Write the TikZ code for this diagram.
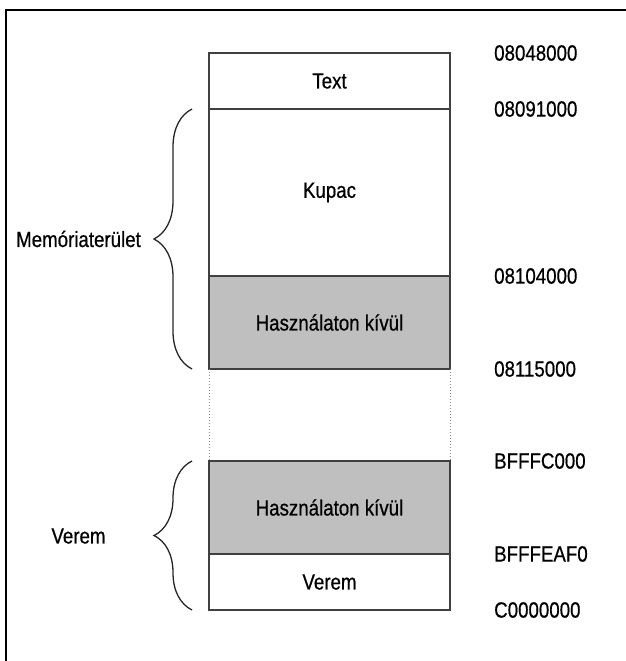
\documentclass[tikz,border=0pt]{standalone}
\usepackage{fontspec}
\setmainfont{Liberation Sans}[FakeStretch=0.85,FakeBold=0.6]
\usetikzlibrary{positioning,decorations.pathreplacing}
\tikzset{
    %Define style for memory segments
    seg/.style={
           rectangle,
           draw=black!75, line width=1.8pt,
           minimum width=241pt,
           inner sep=0pt, outer sep=0pt,
           font=\fontsize{22}{26}\selectfont,
           text centered},
    unused/.style={
           seg,
           fill=black!25},
    gap/.style={
           seg,
           draw=none},
    addr/.style={
           anchor=west,
           inner sep=0pt,
           font=\fontsize{22}{26}\selectfont},
    lbl/.style={
           inner sep=0pt,
           font=\fontsize{22}{26}\selectfont},
    % Define brace style
    brc/.style={
           decorate,
           decoration={brace, amplitude=38pt},
           line width=1.3pt, black!85}
}
\begin{document}
\begin{tikzpicture}[x=1pt,y=1pt]
\useasboundingbox (0,0) rectangle (626,-661);
\draw[line width=1.5pt] (6,-661) -- (6,-10) -- (626,-10);
 %segments
\node[seg, minimum height=56pt](text) at (329.5,-81){Text};
\node[seg, minimum height=167pt, below=0pt of text](kupac){Kupac};
\node[unused, minimum height=93pt, below=0pt of kupac](free1){Használaton kívül};
\node[gap, minimum height=92pt, below=0pt of free1](hole){};
\node[unused, minimum height=93pt, below=0pt of hole](free2){Használaton kívül};
\node[seg, minimum height=56pt, below=0pt of free2](verem){Verem};
\draw[black!45, line width=1pt, dotted] (hole.north west) -- (hole.south west);
\draw[black!45, line width=1pt, dotted] (hole.north east) -- (hole.south east);
 %addresses
\node[addr] (a1) at ([xshift=44pt]text.north east){08048000};
\node[addr] (a2) at ([xshift=44pt]kupac.north east){08091000};
\node[addr] (a3) at ([xshift=44pt]free1.north east){08104000};
\node[addr] (a4) at ([xshift=44pt]free1.south east){08115000};
\node[addr] (a5) at ([xshift=44pt]free2.north east){BFFFC000};
\node[addr] (a6) at ([xshift=44pt]verem.north east){BFFFEAF0};
\node[addr] (a7) at ([xshift=44pt]verem.south east){C0000000};
 %braces
\draw[brc] ([xshift=-17pt]free1.south west) -- ([xshift=-17pt]kupac.north west);
\draw[brc] ([xshift=-17pt]verem.south west) -- ([xshift=-17pt]free2.north west);
\node[lbl] (mem) at (78.5,-239){Memóriaterület};
\node[lbl] (stack) at (78.5,-536){Verem};
\end{tikzpicture}
\end{document}
